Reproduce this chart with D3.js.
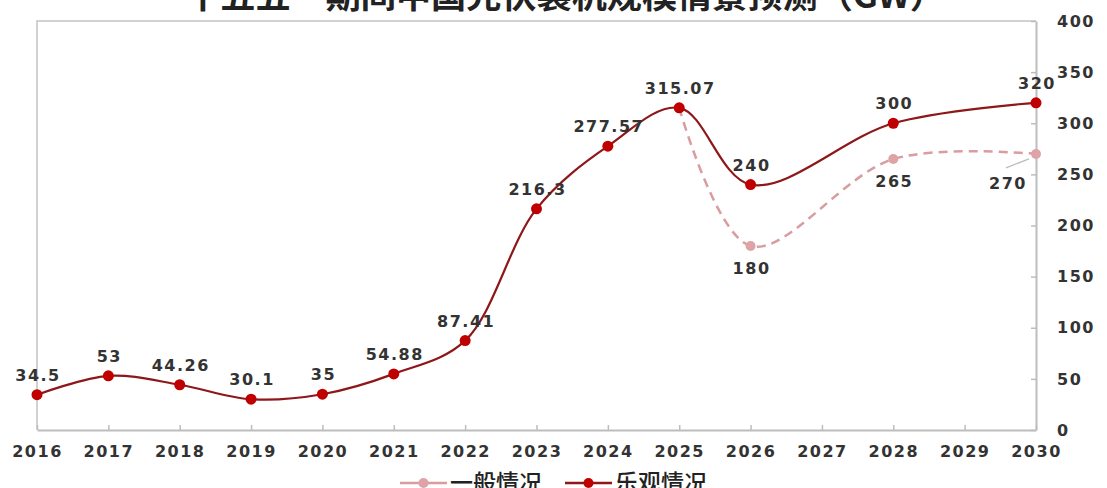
<!DOCTYPE html>
<html>
<head>
<meta charset="utf-8">
<script src="https://cdn.jsdelivr.net/npm/d3@7"></script>
<style>
    body { margin: 0; background: #fff; }
    svg { display: block; font-family: "DejaVu Sans", "Noto Sans CJK SC", sans-serif; }
</style>
</head>
<body>
<div id="chart"></div>
<script>
const title = '“十五五”期间中国光伏装机规模情景预测（GW）';
const years = ['2016', '2017', '2018', '2019', '2020', '2021', '2022', '2023', '2024', '2025', '2026', '2027', '2028', '2029', '2030'];
const optimistic = [34.5, 53, 44.26, 30.1, 35, 54.88, 87.41, 216.3, 277.57, 315.07, 240, null, 300, null, 320];
const general = [null, null, null, null, null, null, null, null, null, 315.07, 180, null, 265, null, 270];
const yTicks = [0, 50, 100, 150, 200, 250, 300, 350, 400];
const seriesNames = ['一般情况', '乐观情况'];

document.addEventListener('DOMContentLoaded', () => {
    const width = 1107;
    const height = 488;
    const margin = { top: 21, right: 71, bottom: 58, left: 37 };

    const svg = d3.select('#chart').append('svg')
        .attr('width', width)
        .attr('height', height);

    const x = d3.scalePoint()
        .domain(years)
        .range([margin.left, width - margin.right]);

    const y = d3.scaleLinear()
        .domain([0, 400])
        .range([height - margin.bottom, margin.top]);

    // title, mostly cut off at the top like the picture
    svg.append('text')
        .attr('x', 150)
        .attr('y', 8)
        .attr('font-family', '"Noto Sans CJK SC", sans-serif')
        .attr('font-weight', 700)
        .attr('font-size', 33)
        .attr('textLength', 795)
        .attr('lengthAdjust', 'spacingAndGlyphs')
        .attr('fill', '#222')
        .text(title);

    // frame: top and left border
    svg.append('path')
        .attr('d', `M${x('2016')},${y(0)}V${y(400)}H${x('2030')}`)
        .attr('fill', 'none')
        .attr('stroke', '#c4c4c4')
        .attr('stroke-width', 1.5);

    const numStyle = sel => sel
        .attr('font-family', '"DejaVu Sans", sans-serif')
        .attr('font-size', 16)
        .attr('font-weight', 700)
        .attr('letter-spacing', 1.5)
        .attr('fill', '#333');

    // x axis
    const xAxis = svg.append('g')
        .attr('transform', `translate(0,${y(0)})`)
        .call(d3.axisBottom(x).tickSizeInner(-5).tickSizeOuter(0).tickPadding(16));
    xAxis.select('.domain').attr('stroke', '#bdbdbd').attr('stroke-width', 2);
    xAxis.selectAll('.tick line').attr('stroke', '#bdbdbd').attr('stroke-width', 1.5);
    xAxis.selectAll('.tick text').call(numStyle);

    // y axis on the right
    const yAxis = svg.append('g')
        .attr('transform', `translate(${x('2030')},0)`)
        .call(d3.axisRight(y).tickValues(yTicks).tickSizeInner(-5).tickSizeOuter(0).tickPadding(21));
    yAxis.select('.domain').attr('stroke', '#bdbdbd').attr('stroke-width', 2);
    yAxis.selectAll('.tick line').attr('stroke', '#bdbdbd').attr('stroke-width', 1.5);
    yAxis.selectAll('.tick text').call(numStyle);

    const line = d3.line()
        .defined(d => d.v != null)
        .x(d => x(d.year))
        .y(d => y(d.v))
        .curve(d3.curveCatmullRom.alpha(0.5));

    const toPoints = arr => years.map((year, i) => ({ year, v: arr[i] })).filter(d => d.v != null);
    const genPts = toPoints(general);
    const optPts = toPoints(optimistic);

    // general scenario (dashed, pink)
    svg.append('path')
        .datum(genPts)
        .attr('d', line)
        .attr('fill', 'none')
        .attr('stroke', '#d99ca0')
        .attr('stroke-width', 2.5)
        .attr('stroke-dasharray', '9,6');

    svg.selectAll('.gen-dot')
        .data(genPts)
        .enter().append('circle')
        .attr('class', 'gen-dot')
        .attr('cx', d => x(d.year))
        .attr('cy', d => y(d.v))
        .attr('r', 5)
        .attr('fill', '#dea3a7');

    // optimistic scenario (solid, dark red)
    svg.append('path')
        .datum(optPts)
        .attr('d', line)
        .attr('fill', 'none')
        .attr('stroke', '#8e1719')
        .attr('stroke-width', 2.2);

    svg.selectAll('.opt-dot')
        .data(optPts)
        .enter().append('circle')
        .attr('class', 'opt-dot')
        .attr('cx', d => x(d.year))
        .attr('cy', d => y(d.v))
        .attr('r', 5.5)
        .attr('fill', '#c00000');

    // labels above the optimistic points
    svg.selectAll('.opt-label')
        .data(optPts)
        .enter().append('text')
        .attr('class', 'opt-label')
        .attr('x', d => x(d.year) + 1)
        .attr('y', d => y(d.v) - 14)
        .attr('text-anchor', 'middle')
        .call(numStyle)
        .text(d => d.v);

    // labels below the general points (2025 shares the optimistic label)
    const genLabels = genPts.filter(d => d.year !== '2025');
    svg.selectAll('.gen-label')
        .data(genLabels)
        .enter().append('text')
        .attr('class', 'gen-label')
        .attr('x', d => d.year === '2030' ? x(d.year) - 28 : x(d.year) + 1)
        .attr('y', d => d.year === '2030' ? y(d.v) + 35 : y(d.v) + 28)
        .attr('text-anchor', 'middle')
        .call(numStyle)
        .text(d => d.v);

    // leader line for the last general label
    const last = genPts[genPts.length - 1];
    svg.append('line')
        .attr('x1', x(last.year) - 7)
        .attr('y1', y(last.v) + 5)
        .attr('x2', x(last.year) - 30)
        .attr('y2', y(last.v) + 14)
        .attr('stroke', '#bbb')
        .attr('stroke-width', 1.2);

    // legend
    const legend = svg.append('g').attr('transform', 'translate(0,483)');
    const items = [
        { name: seriesNames[0], x: 400, color: '#d99ca0', dot: '#dea3a7' },
        { name: seriesNames[1], x: 565, color: '#8e1719', dot: '#c00000' }
    ];
    const li = legend.selectAll('.legend')
        .data(items)
        .enter().append('g')
        .attr('class', 'legend')
        .attr('transform', d => `translate(${d.x},0)`);
    li.append('line')
        .attr('x1', 0).attr('x2', 47)
        .attr('stroke', d => d.color)
        .attr('stroke-width', 2.5);
    li.append('circle')
        .attr('cx', 23.5)
        .attr('r', 5)
        .attr('fill', d => d.dot);
    li.append('text')
        .attr('x', 50)
        .attr('y', 8)
        .attr('font-family', '"Noto Sans CJK SC", sans-serif')
        .attr('font-size', 23)
        .attr('font-weight', 500)
        .attr('fill', '#222')
        .text(d => d.name);
});
</script>
</body>
</html>
